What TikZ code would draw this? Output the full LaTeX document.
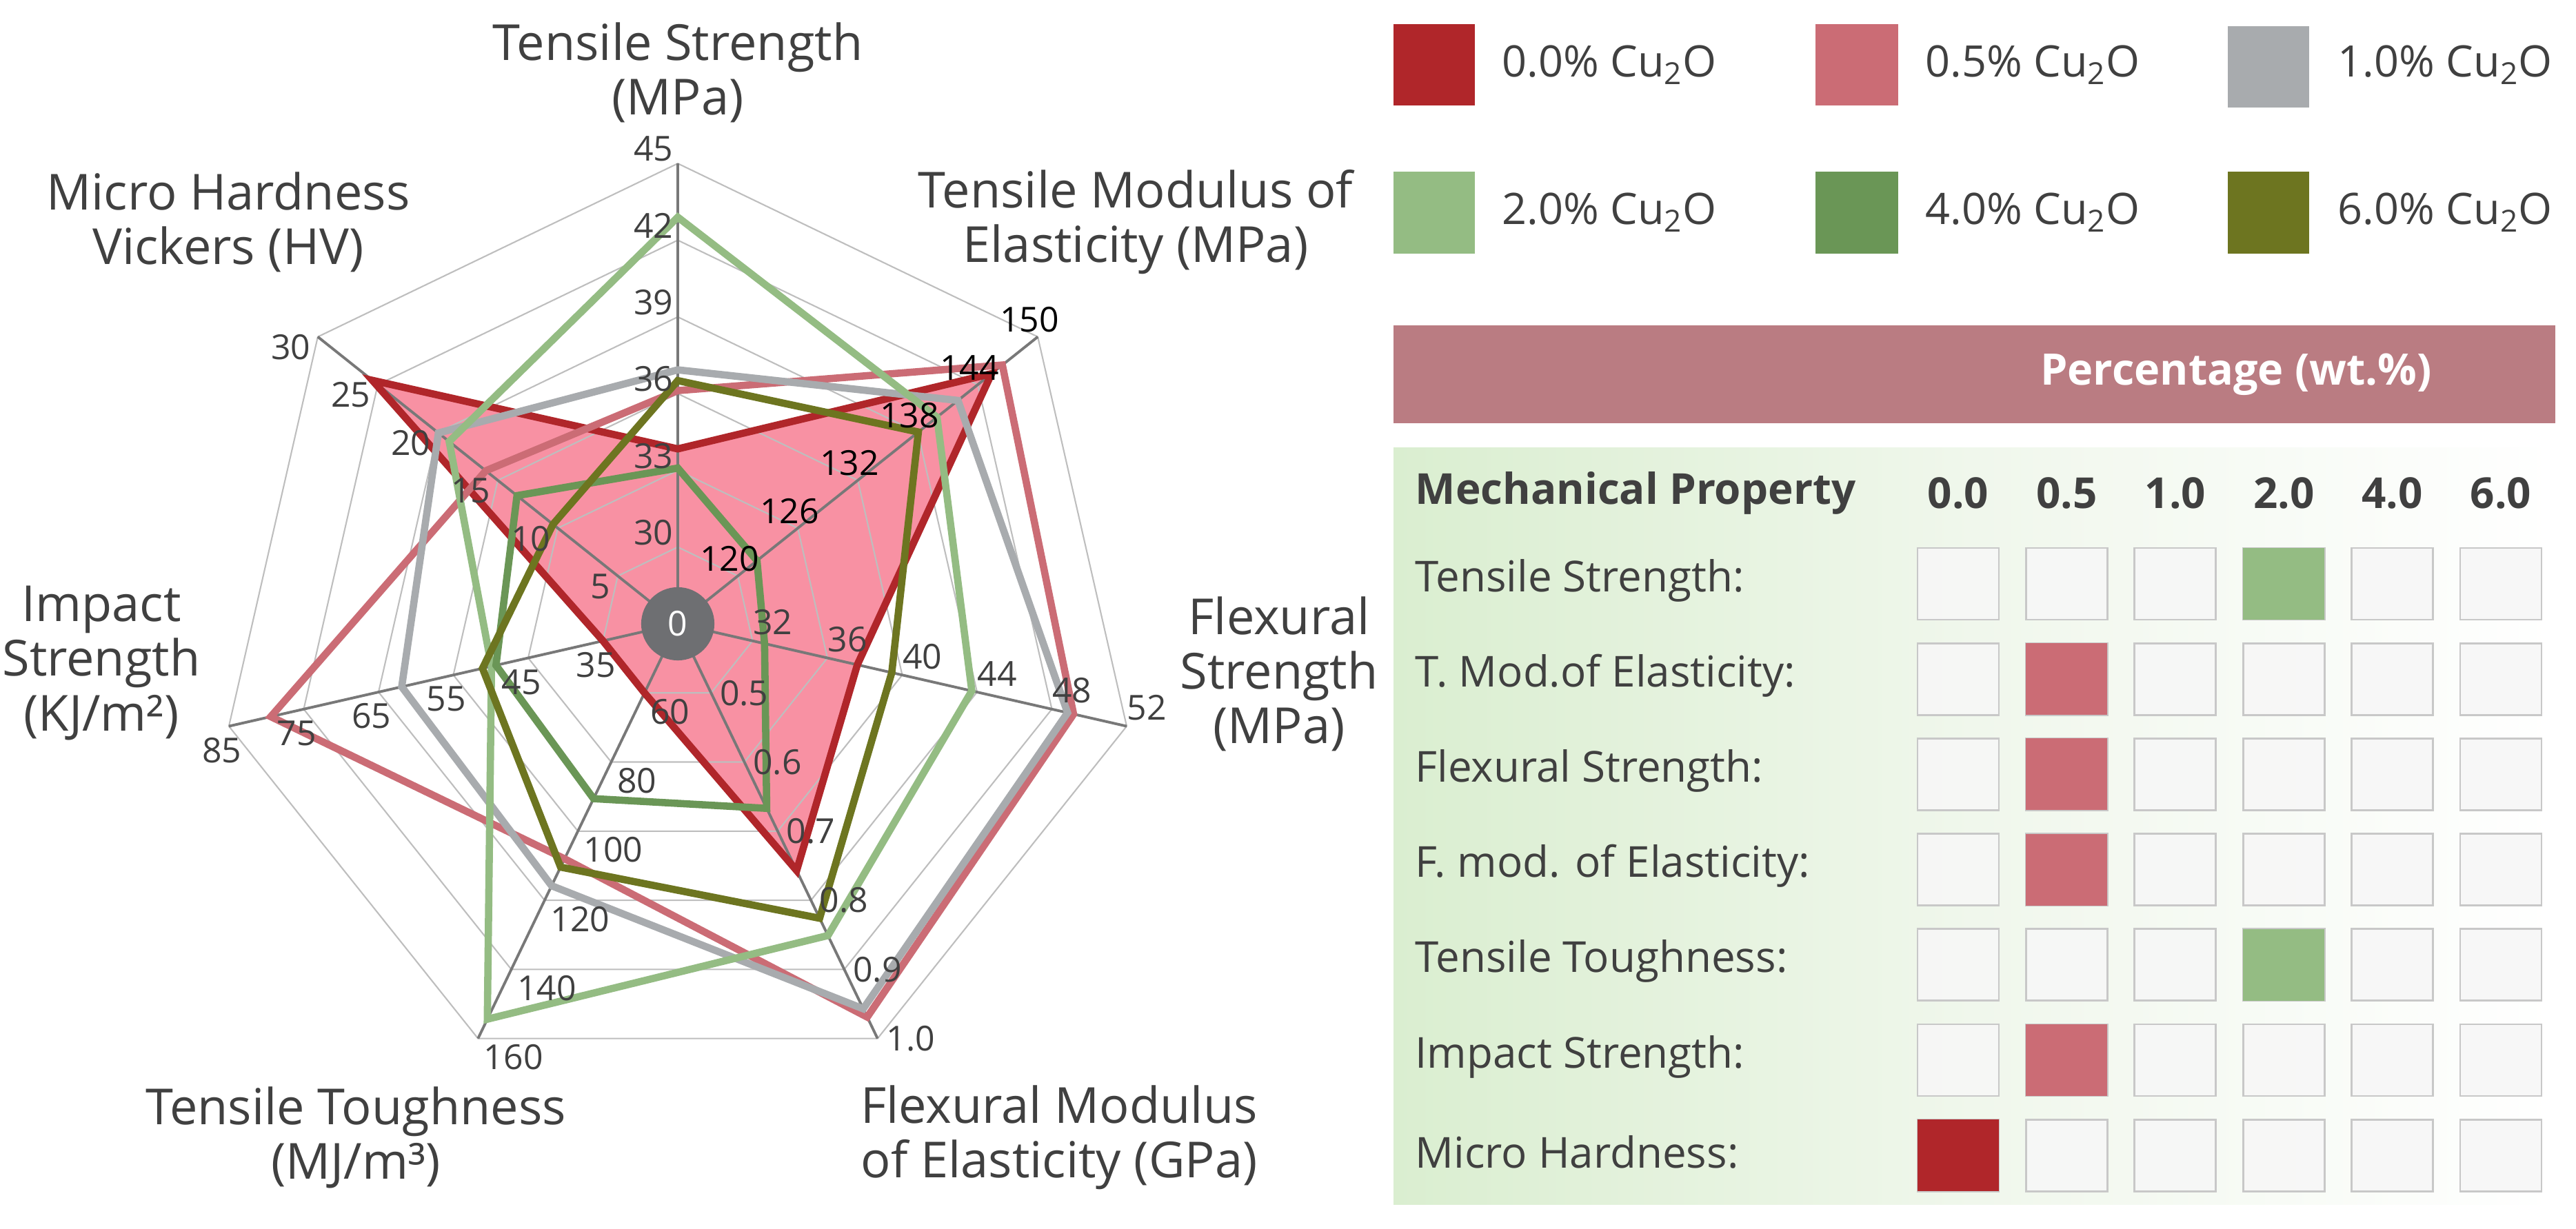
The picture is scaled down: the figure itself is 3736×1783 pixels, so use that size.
\documentclass[tikz,border=0pt]{standalone}
\usepackage{fontspec}
\setmainfont{Open Sans}
\definecolor{cred}{RGB}{176,38,42}
\definecolor{cpink}{RGB}{203,108,117}
\definecolor{cgray}{RGB}{168,171,174}
\definecolor{clgreen}{RGB}{148,188,131}
\definecolor{cdgreen}{RGB}{106,150,86}
\definecolor{colive}{RGB}{109,117,32}
\definecolor{redfill}{RGB}{248,145,163}
\definecolor{txt}{RGB}{64,64,64}
\definecolor{gridc}{RGB}{190,190,190}
\definecolor{spokec}{RGB}{120,120,120}
\definecolor{hub}{RGB}{110,111,114}
\definecolor{barc}{RGB}{186,124,130}
\definecolor{tabgreen}{RGB}{218,238,208}
\definecolor{tabmid}{RGB}{240,247,236}
\definecolor{boxc}{RGB}{200,200,200}
\newcommand\rp[4]{({983+#1*111.3*cos(90-#2*51.42857)+#3},{905-#1*111.3*sin(90-#2*51.42857)+#4})}
\newcommand\serpath[7]{\rp{#1}{0}{0}{0} -- \rp{#2}{1}{0}{0} -- \rp{#3}{2}{0}{0} -- \rp{#4}{3}{0}{0} -- \rp{#5}{4}{0}{0} -- \rp{#6}{5}{0}{0} -- \rp{#7}{6}{0}{0} -- cycle}
\tikzset{
  tick/.style={inner sep=0pt,text=txt,font=\fontsize{14.2}{16}\selectfont},
  axtitle/.style={inner sep=0pt,text=txt,align=center,font=\fontsize{20.5}{22.5}\selectfont},
  series/.style={line width=3pt,line join=miter},
  legtxt/.style={inner sep=0pt,anchor=west,text=txt,font=\fontsize{17.9}{20}\selectfont},
  rowtxt/.style={inner sep=0pt,anchor=west,text=txt,font=\fontsize{17.6}{20}\selectfont},
  hdrtxt/.style={inner sep=0pt,text=txt,font=\bfseries\fontsize{17.6}{20}\selectfont},
  gridline/.style={draw=gridc,line width=0.6pt},
  spoke/.style={draw=spokec,line width=1.1pt},
}
\begin{document}
\begin{tikzpicture}[x=0.01cm,y=-0.01cm]
\useasboundingbox (0,0) rectangle (3736,1783);
% red area
\fill[redfill] \serpath{2.28}{5.23}{2.40}{3.57}{1.0}{1.0}{5.09};
% grid
\foreach \L in {1,...,6}
  \draw[gridline] \rp{\L}{0}{0}{0} \foreach \i in {1,...,6}{ -- \rp{\L}{\i}{0}{0}} -- cycle;
\foreach \i in {0,...,6}
  \draw[spoke] (983,905) -- \rp{6}{\i}{0}{0};
% series
\draw[series,cred] \serpath{2.28}{5.23}{2.40}{3.57}{1.0}{1.0}{5.09};
\draw[series,cpink] \serpath{3.04}{5.41}{5.29}{5.69}{3.4}{5.44}{3.2};
\draw[series,cgray] \serpath{3.31}{4.67}{5.21}{5.57}{3.79}{3.69}{3.99};
\draw[series,clgreen] \serpath{5.3}{4.32}{3.93}{4.51}{5.72}{2.49}{3.81};
\draw[series,cdgreen] \serpath{2.03}{1.32}{1.16}{2.67}{2.53}{2.43}{2.68};
\draw[series,colive] \serpath{3.17}{4.01}{2.86}{4.26}{3.52}{2.61}{2.08};
% hub
\node (hub) at (983,905) [circle,fill=hub,minimum size=30.2pt,inner sep=0pt,text=white,font=\fontsize{14.2}{16}\selectfont] {0};
% tick labels
\foreach \v [count=\k] in {30,33,36,39,42,45}
  \node[tick,anchor=south east] (ta\k) at \rp{\k}{0}{-6}{-2} {\v};
\foreach \v [count=\k] in {120,126,132,138,144,150}
  \node[tick,anchor=south,text=black] (tb\k) at \rp{\k}{1}{-12}{-6} {\v};
\foreach \v [count=\k] in {32,36,40,44,48,52}
  \node[tick,anchor=south west] (tc\k) at \rp{\k}{2}{0}{-8} {\v};
\foreach \v [count=\k] in {0.5,0.6,0.7,0.8,0.9,1.0}
  \node[tick,anchor=west] (td\k) at \rp{\k}{3}{12}{0} {\v};
\foreach \v [count=\k] in {60,80,100,120,140,160}
  \node[tick,anchor=north west] (te\k) at \rp{\k}{4}{8}{8} {\v};
\foreach \v [count=\k] in {35,45,55,65,75,85}
  \node[tick,anchor=north] (tf\k) at \rp{\k}{5}{-10}{16} {\v};
\foreach \v [count=\k] in {5,10,15,20,25,30}
  \node[tick,anchor=east] (tg\k) at \rp{\k}{6}{-10}{15} {\v};
% axis titles
\node[axtitle] (ax0) at (983,105) {Tensile Strength\\(MPa)};
\node[axtitle] (ax1) at (1647,322) {Tensile Modulus of\\Elasticity (MPa)};
\node[axtitle] (ax2) at (1855,978) {Flexural\\Strength\\(MPa)};
\node[axtitle] (ax3) at (1536,1650) {Flexural Modulus\\of Elasticity (GPa)};
\node[axtitle] (ax4) at (516,1650) {Tensile Toughness\\(MJ/m³)};
\node[axtitle] (ax5) at (147,962) {Impact\\Strength\\(KJ/m²)};
\node[axtitle] (ax6) at (331,322) {Micro Hardness\\Vickers (HV)};
% legend
\fill[cred] (2021,35) rectangle (2139,153);
\fill[cpink] (2633,35) rectangle (2753,153);
\fill[cgray] (3231,38) rectangle (3349,156);
\fill[clgreen] (2021,249) rectangle (2139,368);
\fill[cdgreen] (2633,249) rectangle (2753,368);
\fill[colive] (3231,249) rectangle (3349,368);
\node[legtxt] (l1) at (2178,94) {0.0\% Cu\textsubscript{2}O};
\node[legtxt] (l2) at (2792,94) {0.5\% Cu\textsubscript{2}O};
\node[legtxt] (l3) at (3390,94) {1.0\% Cu\textsubscript{2}O};
\node[legtxt] (l4) at (2178,308) {2.0\% Cu\textsubscript{2}O};
\node[legtxt] (l5) at (2792,308) {4.0\% Cu\textsubscript{2}O};
\node[legtxt] (l6) at (3390,308) {6.0\% Cu\textsubscript{2}O};
% percentage bar
\fill[barc] (2021,472) rectangle (3706,614);
\node[inner sep=0pt,text=white,font=\bfseries\fontsize{17.9}{20}\selectfont] (pct) at (3243,543) {Percentage (wt.\%)};
% table
\shade[left color=tabgreen,right color=white,middle color=tabmid] (2021,650) rectangle (3706,1747);
\node[hdrtxt,anchor=west] (mp) at (2052,715) {Mechanical Property};
\foreach \h [count=\c from 0] in {0.0,0.5,1.0,2.0,4.0,6.0}
  \node[hdrtxt] (h\c) at ({2840+157.4*\c},715) {\h};
\foreach \t [count=\r from 0] in {Tensile Strength:,T. Mod.of Elasticity:,Flexural Strength:,F. mod. of Elasticity:,Tensile Toughness:,Impact Strength:,Micro Hardness:}
  \node[rowtxt] (r\r) at (2052,{842+138.2*\r}) {\t};
\foreach \r in {0,...,6}
  \foreach \c in {0,...,5}
    \filldraw[fill=white!97!black,fill opacity=0.9,draw=boxc,line width=0.8pt]
      ({2781+157.4*\c},{795+138.2*\r}) rectangle ++(118,104);
\foreach \r/\c/\col in {0/3/clgreen,1/1/cpink,2/1/cpink,3/1/cpink,4/3/clgreen,5/1/cpink,6/0/cred}
  \fill[\col] ({2781+157.4*\c},{795+138.2*\r}) rectangle ++(118,104);
\end{tikzpicture}
\end{document}
